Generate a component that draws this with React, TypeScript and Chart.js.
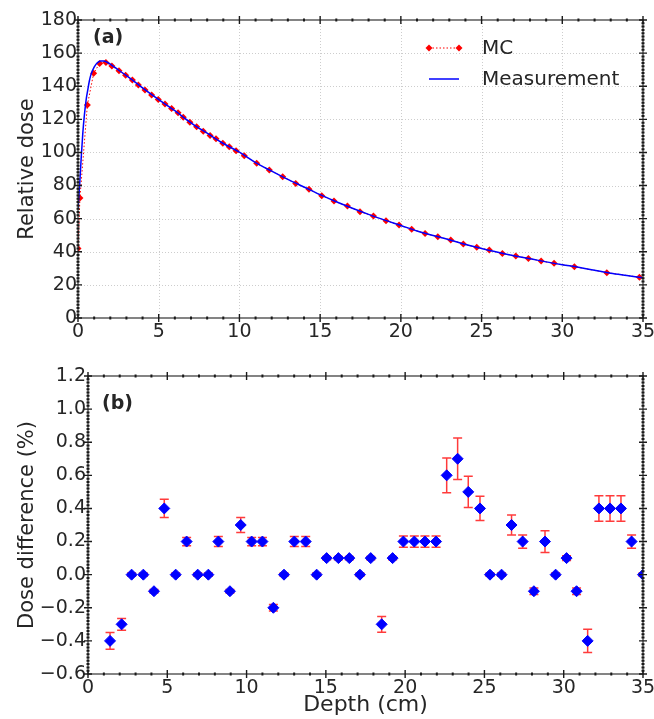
import React, { useEffect, useRef } from 'react';
import { Chart, registerables } from 'chart.js';

Chart.register(...registerables);

const FONT = "'DejaVu Sans', 'Liberation Sans', sans-serif";
const TEXT = '#262626';

// ---- Panel (a): depth dose ----
const mcDepth = [0, 0.12, 0.58, 0.97, 1.34, 1.73, 2.1, 2.54, 2.95, 3.37, 3.74, 4.15, 4.56, 4.97, 5.39, 5.8, 6.2, 6.52, 6.93, 7.35, 7.76, 8.18, 8.55, 8.97, 9.37, 9.79, 10.3, 11.07, 11.85, 12.68, 13.49, 14.31, 15.1, 15.86, 16.69, 17.47, 18.3, 19.08, 19.89, 20.67, 21.5, 22.29, 23.09, 23.87, 24.7, 25.48, 26.29, 27.12, 27.9, 28.69, 29.49, 30.75, 32.76, 34.78];
const mcDose = [42, 72.5, 128.6, 147.8, 153.8, 154.4, 152.2, 149.4, 146.7, 143.7, 140.7, 137.7, 134.7, 132, 129.2, 126.6, 124, 121.2, 118.2, 115.5, 112.8, 110.3, 108.2, 105.5, 103.4, 101, 98, 93.4, 89.4, 85.3, 81.3, 77.7, 73.9, 70.7, 67.6, 64.2, 61.6, 58.8, 56.2, 53.6, 51.1, 49.1, 47.1, 44.7, 42.7, 41, 39, 37.4, 36, 34.4, 33, 31, 27.4, 24.6];

const measDepth = [0, 0.1, 0.2, 0.3, 0.4, 0.5, 0.6, 0.7, 0.8, 1.0, 1.2, 1.4, 1.6, 1.8, 2.0, 2.5, 3, 3.5, 4, 5, 6, 7, 8, 9, 10, 11, 12, 13, 14, 15, 16, 17, 18, 19, 20, 21, 22, 23, 24, 25, 26, 27, 28, 29, 30, 31, 32, 33, 34, 35];
const measDose = [66, 80, 97, 112, 123, 131.5, 137.5, 143, 147, 151.5, 154.2, 155.3, 155.3, 154.5, 153.3, 149.8, 146.4, 142.8, 139, 131.9, 125.2, 117.9, 111.6, 105.4, 100.2, 93.9, 88.7, 83.7, 79.1, 74.5, 70.2, 66.3, 62.6, 59.1, 55.9, 52.6, 49.8, 47.3, 44.4, 42.0, 39.7, 37.6, 35.8, 33.9, 32.2, 30.6, 28.8, 27.1, 25.7, 24.3];

// ---- Panel (b): dose difference ----
const diffDepth = [1.39, 2.12, 2.75, 3.49, 4.16, 4.81, 5.53, 6.22, 6.92, 7.59, 8.22, 8.95, 9.63, 10.32, 11.0, 11.69, 12.36, 13.01, 13.73, 14.42, 15.05, 15.79, 16.48, 17.15, 17.83, 18.52, 19.21, 19.89, 20.58, 21.25, 21.95, 22.62, 23.31, 23.98, 24.72, 25.35, 26.08, 26.71, 27.41, 28.12, 28.82, 29.49, 30.18, 30.81, 31.51, 32.22, 32.92, 33.61, 34.28, 35.0];
const diffValue = [-0.4, -0.3, 0, 0, -0.1, 0.4, 0, 0.2, 0, 0, 0.2, -0.1, 0.3, 0.2, 0.2, -0.2, 0, 0.2, 0.2, 0, 0.1, 0.1, 0.1, 0, 0.1, -0.3, 0.1, 0.2, 0.2, 0.2, 0.2, 0.6, 0.7, 0.5, 0.4, 0, 0, 0.3, 0.2, -0.1, 0.2, 0, 0.1, -0.1, -0.4, 0.4, 0.4, 0.4, 0.2, 0];
const diffError = [0.05, 0.035, 0.01, 0.01, 0.01, 0.055, 0.01, 0.025, 0.01, 0.01, 0.03, 0.01, 0.045, 0.025, 0.025, 0.02, 0.01, 0.03, 0.03, 0.01, 0.01, 0.01, 0.01, 0.01, 0.01, 0.048, 0.01, 0.034, 0.034, 0.034, 0.034, 0.105, 0.125, 0.094, 0.073, 0.01, 0.01, 0.06, 0.04, 0.02, 0.066, 0.01, 0.015, 0.02, 0.07, 0.077, 0.077, 0.077, 0.04, 0.01];

// ---- Tick labels ----
const depthTicks = [0, 5, 10, 15, 20, 25, 30, 35];
const doseTicks = [0, 20, 40, 60, 80, 100, 120, 140, 160, 180];
const diffTicks = [-0.6, -0.4, -0.2, 0, 0.2, 0.4, 0.6, 0.8, 1.0, 1.2];

function fmtDiff(v: number): string {
  if (Math.abs(v) < 1e-9) return '0.0';
  return (v < 0 ? '\u2212' : '') + Math.abs(v).toFixed(1);
}

const framePlugin = {
  id: 'frame',
  beforeDatasetsDraw(chart: any, _a: any, opts: any) {
    if (!opts.grid) return;
    const { ctx, chartArea: ca } = chart;
    const x = chart.scales.x;
    const y = chart.scales.y;
    ctx.save();
    ctx.strokeStyle = '#cdcdcd';
    ctx.lineWidth = 1;
    ctx.setLineDash([1, 2]);
    x.ticks.forEach((t: any) => {
      const p = Math.round(x.getPixelForValue(t.value)) + 0.5;
      if (p <= ca.left + 2 || p >= ca.right - 2) return;
      ctx.beginPath();
      ctx.moveTo(p, ca.top);
      ctx.lineTo(p, ca.bottom);
      ctx.stroke();
    });
    y.ticks.forEach((t: any) => {
      const p = Math.round(y.getPixelForValue(t.value)) + 0.5;
      if (p <= ca.top + 2 || p >= ca.bottom - 2) return;
      ctx.beginPath();
      ctx.moveTo(ca.left, p);
      ctx.lineTo(ca.right, p);
      ctx.stroke();
    });
    ctx.restore();
  },
  afterDatasetsDraw(chart: any, _a: any, opts: any) {
    const { ctx, chartArea: ca } = chart;
    const x = chart.scales.x;
    const y = chart.scales.y;
    ctx.save();
    ctx.strokeStyle = '#333333';
    ctx.lineWidth = 1.2;
    ctx.strokeRect(ca.left, ca.top, ca.right - ca.left, ca.bottom - ca.top);
    ctx.strokeStyle = '#1a1a1a';
    const isMajor = (scale: any, v: number) => scale.ticks.some((t: any) => Math.abs(t.value - v) < 1e-6);
    ctx.lineWidth = 1.4;
    x.ticks.forEach((t: any) => {
      const p = x.getPixelForValue(t.value);
      ctx.beginPath();
      ctx.moveTo(p, ca.bottom - 4); ctx.lineTo(p, ca.bottom + 4);
      ctx.moveTo(p, ca.top - 4); ctx.lineTo(p, ca.top + 4);
      ctx.stroke();
    });
    y.ticks.forEach((t: any) => {
      const p = y.getPixelForValue(t.value);
      ctx.beginPath();
      ctx.moveTo(ca.left - 4, p); ctx.lineTo(ca.left + 4, p);
      ctx.moveTo(ca.right - 4, p); ctx.lineTo(ca.right + 4, p);
      ctx.stroke();
    });
    ctx.lineWidth = 2;
    const nx = Math.round((x.max - x.min) / opts.xMinor);
    for (let i = 0; i <= nx; i++) {
      const v = x.min + i * opts.xMinor;
      if (isMajor(x, v)) continue;
      const p = x.getPixelForValue(v);
      ctx.beginPath();
      ctx.moveTo(p, ca.bottom - 1.5); ctx.lineTo(p, ca.bottom + 1.5);
      ctx.moveTo(p, ca.top - 1.5); ctx.lineTo(p, ca.top + 1.5);
      ctx.stroke();
    }
    const ny = Math.round((y.max - y.min) / opts.yMinor);
    for (let i = 0; i <= ny; i++) {
      const v = y.min + i * opts.yMinor;
      if (isMajor(y, v)) continue;
      const p = y.getPixelForValue(v);
      ctx.beginPath();
      ctx.moveTo(ca.left - 1.5, p); ctx.lineTo(ca.left + 1.5, p);
      ctx.moveTo(ca.right - 1.5, p); ctx.lineTo(ca.right + 1.5, p);
      ctx.stroke();
    }
    ctx.fillStyle = TEXT;
    ctx.font = `bold 19px ${FONT}`;
    ctx.textAlign = 'left';
    ctx.textBaseline = 'middle';
    ctx.fillText(opts.label, ca.left + opts.labelDx, ca.top + opts.labelDy);
    ctx.restore();
  },
};

const legendPlugin = {
  id: 'insideLegend',
  afterDatasetsDraw(chart: any) {
    const { ctx, chartArea: ca } = chart;
    const ds = chart.data.datasets;
    const mc = ds[1];
    const meas = ds[0];
    const x0 = ca.right - 214;
    const x1 = ca.right - 184;
    const tx = ca.right - 161;
    const r1 = ca.top + 28;
    const r2 = ca.top + 59;
    ctx.save();
    ctx.strokeStyle = mc.borderColor;
    ctx.lineWidth = 1;
    ctx.setLineDash([1.5, 2]);
    ctx.beginPath();
    ctx.moveTo(x0, r1); ctx.lineTo(x1, r1);
    ctx.stroke();
    ctx.setLineDash([]);
    ctx.fillStyle = mc.pointBackgroundColor;
    [x0, x1].forEach((px) => {
      ctx.beginPath();
      ctx.moveTo(px - 3.5, r1); ctx.lineTo(px, r1 - 3.5); ctx.lineTo(px + 3.5, r1); ctx.lineTo(px, r1 + 3.5);
      ctx.closePath();
      ctx.fill();
    });
    ctx.strokeStyle = meas.borderColor;
    ctx.lineWidth = 1.5;
    ctx.beginPath();
    ctx.moveTo(x0, r2); ctx.lineTo(x1, r2);
    ctx.stroke();
    ctx.fillStyle = TEXT;
    ctx.font = `20px ${FONT}`;
    ctx.textAlign = 'left';
    ctx.textBaseline = 'middle';
    ctx.fillText(mc.label, tx, r1 + 1);
    ctx.fillText(meas.label, tx, r2 + 1);
    ctx.restore();
  },
};

const errorBarPlugin = {
  id: 'errorBars',
  beforeDatasetsDraw(chart: any, _a: any, opts: any) {
    const { ctx, chartArea: ca } = chart;
    const x = chart.scales.x;
    const y = chart.scales.y;
    ctx.save();
    ctx.beginPath();
    ctx.rect(ca.left, ca.top, ca.right - ca.left, ca.bottom - ca.top);
    ctx.clip();
    ctx.strokeStyle = '#ff3b3b';
    ctx.lineWidth = 1.5;
    opts.depth.forEach((d: number, i: number) => {
      const v = opts.value[i];
      const e = opts.error[i];
      const px = x.getPixelForValue(d);
      const yt = y.getPixelForValue(v + e);
      const yb = y.getPixelForValue(v - e);
      ctx.beginPath();
      ctx.moveTo(px, yt); ctx.lineTo(px, yb);
      ctx.moveTo(px - 4.5, yt); ctx.lineTo(px + 4.5, yt);
      ctx.moveTo(px - 4.5, yb); ctx.lineTo(px + 4.5, yb);
      ctx.stroke();
    });
    ctx.restore();
  },
};

const tickFont = { family: FONT, size: 19 };
const titleFont = { family: FONT, size: 21 };

const noPadX = (h: number) => (s: any) => { s.height = h; s.paddingLeft = 0; s.paddingRight = 0; };
const noPadY = (w: number) => (s: any) => { s.width = w; s.paddingTop = 0; s.paddingBottom = 0; };

export default function App() {
  const topRef = useRef<HTMLCanvasElement | null>(null);
  const botRef = useRef<HTMLCanvasElement | null>(null);

  useEffect(() => {
    const top = new Chart(topRef.current as HTMLCanvasElement, {
      type: 'scatter',
      data: {
        datasets: [
          {
            label: 'Measurement',
            data: measDepth.map((d, i) => ({ x: d, y: measDose[i] })),
            showLine: true,
            borderColor: '#0000ff',
            borderWidth: 1.5,
            pointRadius: 0,
            cubicInterpolationMode: 'monotone',
            order: 0,
          } as any,
          {
            label: 'MC',
            data: mcDepth.map((d, i) => ({ x: d, y: mcDose[i] })),
            showLine: true,
            borderColor: '#ff0000',
            borderWidth: 1,
            borderDash: [1.5, 2],
            pointStyle: 'rectRot',
            pointRadius: 3.5,
            pointBackgroundColor: '#ff0000',
            pointBorderColor: '#ff0000',
            pointBorderWidth: 0,
            order: 1,
          } as any,
        ],
      },
      options: {
        responsive: false,
        animation: false,
        devicePixelRatio: 1,
        layout: { padding: { top: 20, right: 11, left: 0, bottom: 0 } },
        plugins: {
          legend: { display: false },
          tooltip: { enabled: false },
          frame: { grid: true, xMinor: 1, yMinor: 2, label: '(a)', labelDx: 15, labelDy: 18 },
        } as any,
        scales: {
          x: {
            type: 'linear',
            min: 0,
            max: 35,
            afterBuildTicks: (s: any) => { s.ticks = depthTicks.map((v) => ({ value: v })); },
            afterFit: noPadX(27),
            grid: { display: false, drawTicks: false },
            border: { display: false },
            ticks: { font: tickFont, color: TEXT, padding: 3, maxRotation: 0, autoSkip: false },
          },
          y: {
            type: 'linear',
            min: 0,
            max: 180,
            afterBuildTicks: (s: any) => { s.ticks = doseTicks.map((v) => ({ value: v })); },
            afterFit: noPadY(78),
            grid: { display: false, drawTicks: false },
            border: { display: false },
            ticks: { font: tickFont, color: TEXT, padding: 1, autoSkip: false },
            title: { display: true, text: 'Relative dose', font: titleFont, color: TEXT, padding: { top: 15, bottom: 0 } },
          },
        } as any,
      },
      plugins: [framePlugin, legendPlugin],
    });

    const bot = new Chart(botRef.current as HTMLCanvasElement, {
      type: 'scatter',
      data: {
        datasets: [
          {
            label: 'Dose difference',
            data: diffDepth.map((d, i) => ({ x: d, y: diffValue[i] })),
            showLine: false,
            pointStyle: 'rectRot',
            pointRadius: 5.5,
            pointBackgroundColor: '#0000ff',
            pointBorderColor: '#0000ff',
            pointBorderWidth: 1,
          } as any,
        ],
      },
      options: {
        responsive: false,
        animation: false,
        devicePixelRatio: 1,
        layout: { padding: { top: 31, right: 11, left: 0, bottom: 0 } },
        plugins: {
          legend: { display: false },
          tooltip: { enabled: false },
          frame: { grid: false, xMinor: 1, yMinor: 0.02, label: '(b)', labelDx: 14, labelDy: 28 },
          errorBars: { depth: diffDepth, value: diffValue, error: diffError },
        } as any,
        scales: {
          x: {
            type: 'linear',
            min: 0,
            max: 35,
            afterBuildTicks: (s: any) => { s.ticks = depthTicks.map((v) => ({ value: v })); },
            afterFit: noPadX(45),
            grid: { display: false, drawTicks: false },
            border: { display: false },
            ticks: { font: tickFont, color: TEXT, padding: 3, maxRotation: 0, autoSkip: false },
            title: { display: true, text: 'Depth (cm)', font: { family: FONT, size: 22 }, color: TEXT, padding: { top: 0, bottom: 1 } },
          },
          y: {
            type: 'linear',
            min: -0.6,
            max: 1.2,
            afterBuildTicks: (s: any) => { s.ticks = diffTicks.map((v) => ({ value: v })); },
            afterFit: noPadY(88),
            grid: { display: false, drawTicks: false },
            border: { display: false },
            ticks: { font: tickFont, color: TEXT, padding: 2, autoSkip: false, callback: (v: any) => fmtDiff(Number(v)) },
            title: { display: true, text: 'Dose difference (%)', font: titleFont, color: TEXT, padding: { top: 15, bottom: 0 } },
          },
        } as any,
      },
      plugins: [framePlugin, errorBarPlugin],
    });

    return () => {
      top.destroy();
      bot.destroy();
    };
  }, []);

  return (
    <div style={{ position: 'fixed', left: 0, top: 0, width: 654, height: 719, background: '#ffffff' }}>
      <canvas ref={topRef} width={654} height={345} style={{ display: 'block' }} />
      <canvas ref={botRef} width={654} height={374} style={{ display: 'block' }} />
    </div>
  );
}
